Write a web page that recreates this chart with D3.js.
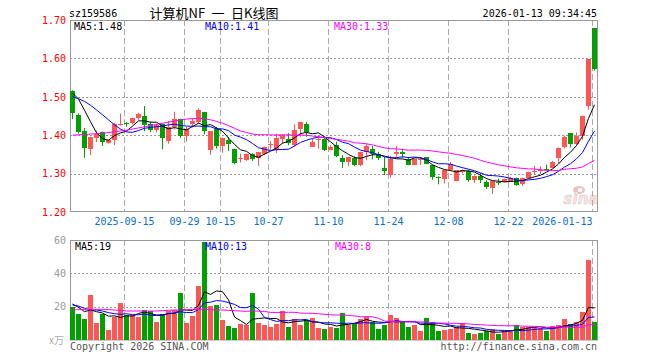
<!DOCTYPE html>
<html><head><meta charset="utf-8">
<script src="https://cdn.jsdelivr.net/npm/d3@7"></script>
<style>
html,body{margin:0;padding:0;background:#fff;}
svg{display:block;}
text{font-family:"DejaVu Sans Mono","Liberation Mono",monospace;font-size:10px;}
</style></head><body>
<svg id="chart" width="660" height="360"></svg>
<script>
const dates = ["2025-09-02","2025-09-03","2025-09-04","2025-09-05","2025-09-08","2025-09-09","2025-09-10","2025-09-11","2025-09-12","2025-09-15",
"2025-09-16","2025-09-17","2025-09-18","2025-09-19","2025-09-22","2025-09-23","2025-09-24","2025-09-25","2025-09-26","2025-09-29",
"2025-09-30","2025-10-09","2025-10-10","2025-10-13","2025-10-14","2025-10-15","2025-10-16","2025-10-17","2025-10-20","2025-10-21",
"2025-10-22","2025-10-23","2025-10-24","2025-10-27","2025-10-28","2025-10-29","2025-10-30","2025-10-31","2025-11-03","2025-11-04",
"2025-11-05","2025-11-06","2025-11-07","2025-11-10","2025-11-11","2025-11-12","2025-11-13","2025-11-14","2025-11-17","2025-11-18",
"2025-11-19","2025-11-20","2025-11-21","2025-11-24","2025-11-25","2025-11-26","2025-11-27","2025-11-28","2025-12-01","2025-12-02",
"2025-12-03","2025-12-04","2025-12-05","2025-12-08","2025-12-09","2025-12-10","2025-12-11","2025-12-12","2025-12-15","2025-12-16",
"2025-12-17","2025-12-18","2025-12-19","2025-12-22","2025-12-23","2025-12-24","2025-12-25","2025-12-26","2025-12-29","2025-12-30",
"2025-12-31","2026-01-05","2026-01-06","2026-01-07","2026-01-08","2026-01-09","2026-01-12","2026-01-13"];

const open = [1.515,1.452,1.412,1.364,1.393,1.408,1.380,1.387,1.428,1.431,
1.432,1.445,1.450,1.429,1.414,1.429,1.385,1.421,1.442,1.397,
1.430,1.435,1.460,1.361,1.417,1.372,1.387,1.363,1.339,1.335,
1.352,1.341,1.352,1.376,1.361,1.390,1.391,1.375,1.417,1.430,
1.370,1.387,1.391,1.361,1.374,1.341,1.330,1.341,1.322,1.357,
1.363,1.352,1.315,1.296,1.351,1.355,1.339,1.323,1.336,1.342,
1.323,1.291,1.287,1.309,1.280,1.304,1.307,1.283,1.295,1.279,
1.262,1.279,1.277,1.281,1.288,1.273,1.288,1.305,1.308,1.312,
1.314,1.340,1.368,1.405,1.377,1.398,1.475,1.679];

const high = [1.517,1.457,1.419,1.396,1.412,1.409,1.389,1.432,1.456,1.434,
1.446,1.459,1.476,1.435,1.430,1.430,1.437,1.461,1.443,1.422,
1.443,1.470,1.461,1.411,1.422,1.394,1.395,1.365,1.352,1.352,
1.353,1.356,1.370,1.385,1.404,1.403,1.405,1.428,1.435,1.435,
1.391,1.400,1.396,1.374,1.383,1.348,1.343,1.345,1.357,1.378,
1.372,1.357,1.343,1.346,1.372,1.365,1.343,1.339,1.343,1.343,
1.323,1.293,1.309,1.330,1.309,1.311,1.310,1.295,1.301,1.283,
1.281,1.287,1.287,1.291,1.290,1.290,1.305,1.320,1.319,1.323,
1.333,1.368,1.399,1.405,1.407,1.451,1.598,1.679];

const low = [1.442,1.404,1.341,1.348,1.382,1.372,1.378,1.374,1.425,1.422,
1.428,1.440,1.410,1.408,1.408,1.363,1.378,1.415,1.393,1.383,
1.420,1.430,1.402,1.349,1.365,1.354,1.359,1.324,1.329,1.333,
1.333,1.320,1.348,1.362,1.353,1.377,1.374,1.370,1.396,1.396,
1.370,1.365,1.359,1.361,1.343,1.315,1.319,1.319,1.319,1.335,
1.337,1.335,1.296,1.289,1.343,1.341,1.322,1.322,1.322,1.325,
1.284,1.272,1.274,1.307,1.280,1.300,1.279,1.275,1.275,1.260,
1.247,1.270,1.277,1.279,1.268,1.268,1.288,1.297,1.299,1.309,
1.314,1.327,1.366,1.368,1.373,1.388,1.466,1.568];

const close = [1.457,1.409,1.367,1.395,1.404,1.381,1.387,1.428,1.430,1.428,
1.445,1.456,1.427,1.414,1.427,1.394,1.421,1.443,1.397,1.415,
1.437,1.465,1.410,1.411,1.372,1.393,1.377,1.327,1.341,1.352,
1.337,1.355,1.369,1.378,1.394,1.400,1.380,1.413,1.434,1.409,
1.383,1.391,1.361,1.370,1.346,1.330,1.343,1.322,1.357,1.372,
1.352,1.341,1.306,1.337,1.357,1.350,1.323,1.337,1.338,1.326,
1.291,1.289,1.309,1.324,1.309,1.309,1.283,1.295,1.283,1.266,
1.281,1.277,1.285,1.289,1.270,1.288,1.303,1.308,1.310,1.310,
1.330,1.366,1.395,1.377,1.398,1.451,1.598,1.573];

// volume, unit: 万
const volume = [19.6,15.6,12.6,27,10.2,15.6,6,13.6,22.2,15,
15,13.8,18,17.4,10.8,15.6,17.4,18,28.4,10.4,
14.4,32.6,58.8,20.4,21,12,8.4,7.2,9.6,9.2,
28.2,10.2,9,7.8,9.6,17.4,7.8,12.6,9,12,
13.2,7.2,6.6,7.8,7.2,16.2,9,10.2,12.6,13.6,
10.8,6.6,9,15,13.2,10.8,7.8,9,5.4,13.2,
10.8,5.4,6,6.6,7.8,10.2,4.2,3.6,4.2,5.4,
6.6,3.6,5.4,6,9,7.8,7.8,7.8,7.2,5.4,
8.4,9,12.6,9.6,10.8,16.8,48,10.8];

// moving-average values before enough history is on screen
const priceMA5Head = [1.510,1.494,1.465,1.435];
const priceMA10Head = [1.500,1.495,1.488,1.478,1.466,1.453,1.440,1.427,1.416];
const priceMA30Head = [1.400,1.401,1.402,1.403,1.404,1.405,1.407,1.409,1.411,1.413,1.416,1.419,1.422,1.425,1.428,1.431,1.434,1.437,1.440,1.442,1.443,1.444,1.443,1.440,1.436,1.431,1.425,1.418,1.411];
const volMA5Head = [21.6,19.6,17,18];
const volMA10Head = [21,20.4,19,18,18,17.4,16.4,15.8,15.4];
const volMA30Head = [18.0,18.2,18.2,18.2,18.4,18.4,18.2,18.0,17.8,17.4,17.4,17.4,17.4,17.4,17.4,17.6,17.8,18.0,18.0,18.2,18.4,18.4,18.4,18.2,18.0,18.0,17.8,17.6,17.4];

const tickDates = ["2025-09-15","2025-09-29","2025-10-15","2025-10-27","2025-11-10","2025-11-24","2025-12-08","2025-12-22","2026-01-13"];
const tickLabels = ["2025-09-15","09-29","10-15","10-27","11-10","11-24","12-08","12-22","2026-01-13"];
const priceTicks = [1.2,1.3,1.4,1.5,1.6,1.7];
const volumeTicks = [20,40,60];
const priceLegend = ["MA5:1.48","MA10:1.41","MA30:1.33"];
const volumeLegend = ["MA5:19","MA10:13","MA30:8"];
const maColors = ["#000000","#0000ff","#ff00ff"];

const RED = "#ff5555", GREEN = "#00a000";

const svg = d3.select("#chart");
const L = 70, R = 597.5;
const x = d3.scaleBand().domain(dates).range([L, L + 6 * dates.length]).padding(0);
const yP = d3.scaleLinear().domain([1.2, 1.7]).range([212, 20]);
const yV = d3.scaleLinear().domain([0, 60]).range([340, 240]);

function ma(values, n, head) {
  return values.map((v, i) => i < n - 1 ? head[i] : d3.mean(values.slice(i - n + 1, i + 1)));
}

// header
svg.append("text").attr("x", 69).attr("y", 17).attr("fill", "#000").text("sz159586");
svg.append("text").attr("x", 214).attr("y", 18).attr("text-anchor", "middle")
  .style("font-family", "'Noto Sans CJK SC',sans-serif").style("font-size", "13px").style("white-space", "pre").attr("fill", "#000")
  .text("计算机NF\u2002一\u2002日K线图");
svg.append("text").attr("x", 597).attr("y", 17).attr("text-anchor", "end").attr("fill", "#000").text("2026-01-13 09:34:45");

function grid(g, y0, y1, hVals, yScale) {
  g.selectAll("line.h").data(hVals).join("line")
    .attr("x1", L).attr("x2", R)
    .attr("y1", d => Math.round(yScale(d)) + 0.5).attr("y2", d => Math.round(yScale(d)) + 0.5)
    .attr("stroke", "#999").attr("stroke-dasharray", "2,2");
  g.selectAll("line.v").data(tickDates).join("line")
    .attr("x1", d => x(d) + 0.5).attr("x2", d => x(d) + 0.5)
    .attr("y1", y0).attr("y2", y1)
    .attr("stroke", "#aaa").attr("stroke-dasharray", "6,3");
}

// price panel
const gp = svg.append("g");
grid(gp.append("g"), 20, 212, [1.3, 1.4, 1.5, 1.6], yP);
gp.append("rect").attr("x", 70.5).attr("y", 20.5).attr("width", 527).attr("height", 191)
  .attr("fill", "none").attr("stroke", "#999");

// y axis labels (price)
const axP = svg.append("g").attr("transform", `translate(${L},0)`)
  .call(d3.axisLeft(yP).tickValues(priceTicks).tickFormat(d3.format(".2f")).tickSize(0).tickPadding(4));
axP.select(".domain").remove();
axP.selectAll("text").attr("fill", "#ff0000").style("font-family", "'DejaVu Sans Mono',monospace").style("font-size", "10px");

// candles
const idx = d3.range(dates.length);
const cg = svg.append("g");
cg.selectAll("line.w").data(idx).join("line")
  .attr("x1", i => x(dates[i]) + 2.5).attr("x2", i => x(dates[i]) + 2.5)
  .attr("y1", i => yP(high[i])).attr("y2", i => yP(low[i]))
  .attr("stroke", i => close[i] >= open[i] ? RED : GREEN);
cg.selectAll("rect").data(idx).join("rect")
  .attr("x", i => x(dates[i])).attr("width", 5)
  .attr("y", i => yP(Math.max(open[i], close[i])))
  .attr("height", i => Math.max(1, Math.abs(yP(open[i]) - yP(close[i]))))
  .attr("fill", i => close[i] >= open[i] ? RED : GREEN)
  .attr("shape-rendering", "crispEdges");

// price MAs
const pMAs = [ma(close, 5, priceMA5Head), ma(close, 10, priceMA10Head), ma(close, 30, priceMA30Head)];
const lineP = d3.line().x((d, i) => x(dates[i]) + 2.5).y(d => yP(d));
pMAs.forEach((s, k) => {
  svg.append("path").datum(s).attr("d", lineP).attr("fill", "none").attr("stroke", maColors[k]).attr("stroke-width", 1);
});

// x labels
svg.append("g").selectAll("text").data(tickDates).join("text")
  .attr("x", d => x(d) + 0.5)
  .attr("y", 225)
  .attr("text-anchor", (d, i) => i === tickDates.length - 1 ? "end" : "middle")
  .attr("fill", "#0a6ed1")
  .text((d, i) => tickLabels[i]);

// legends (price)
const legX = [74, 205, 334];
priceLegend.forEach((t, k) => svg.append("text").attr("x", legX[k]).attr("y", 30).attr("fill", maColors[k]).text(t));

// sina watermark
const wm = svg.append("g").attr("opacity", 0.55);
wm.append("ellipse").attr("cx", 579).attr("cy", 190).attr("rx", 6).attr("ry", 4).attr("fill", "#e58a8a");
wm.append("ellipse").attr("cx", 580).attr("cy", 190).attr("rx", 2.5).attr("ry", 2).attr("fill", "#fff");
wm.append("text").attr("x", 581).attr("y", 204).attr("text-anchor", "middle")
  .style("font-family", "'DejaVu Sans',sans-serif").style("font-size", "15px").style("font-weight", "bold").style("font-style", "italic")
  .attr("fill", "#f2d0d0").attr("stroke", "#c9a0a0").attr("stroke-width", 0.6).text("sina");

// volume panel
const gv = svg.append("g");
grid(gv.append("g"), 240, 340, [20, 40], yV);

svg.append("g").selectAll("rect").data(idx).join("rect")
  .attr("x", i => x(dates[i])).attr("width", 5)
  .attr("y", i => yV(volume[i])).attr("height", i => yV(0) - yV(volume[i]))
  .attr("fill", i => close[i] >= open[i] ? RED : GREEN)
  .attr("shape-rendering", "crispEdges");

const vMAs = [ma(volume, 5, volMA5Head), ma(volume, 10, volMA10Head), ma(volume, 30, volMA30Head)];
const lineV = d3.line().x((d, i) => x(dates[i]) + 2.5).y(d => yV(d));
vMAs.forEach((s, k) => {
  svg.append("path").datum(s).attr("d", lineV).attr("fill", "none").attr("stroke", maColors[k]).attr("stroke-width", 1);
});

gv.append("rect").attr("x", 70.5).attr("y", 240.5).attr("width", 527).attr("height", 99.5)
  .attr("fill", "none").attr("stroke", "#999");

const axV = svg.append("g").attr("transform", `translate(${L},0)`)
  .call(d3.axisLeft(yV).tickValues(volumeTicks).tickFormat(d3.format("d")).tickSize(0).tickPadding(4));
axV.select(".domain").remove();
axV.selectAll("text").attr("fill", "#999").style("font-family", "'DejaVu Sans Mono',monospace").style("font-size", "10px");

svg.append("text").attr("x", 64).attr("y", 344).attr("text-anchor", "end").attr("fill", "#aaa")
  .style("font-family", "'Noto Sans CJK SC',sans-serif").style("font-size", "10px").text("x万");

const vlegX = [75, 205, 335];
volumeLegend.forEach((t, k) => svg.append("text").attr("x", vlegX[k]).attr("y", 250).attr("fill", maColors[k]).text(t));

// footer
svg.append("text").attr("x", 70).attr("y", 349.5).attr("fill", "#555").text("Copyright 2026 SINA.COM");
svg.append("text").attr("x", 597).attr("y", 349.5).attr("text-anchor", "end").attr("fill", "#555").text("http://finance.sina.com.cn");
</script>
</body></html>
